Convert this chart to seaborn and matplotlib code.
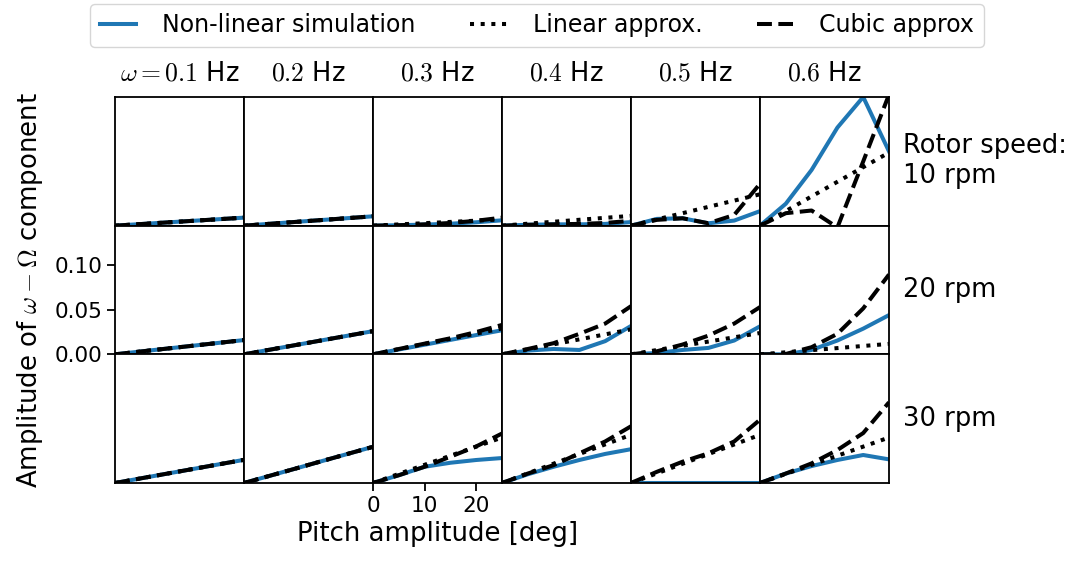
import matplotlib
matplotlib.use("Agg")
import matplotlib.pyplot as plt
import seaborn as sns
import numpy as np
import pandas as pd

# ---------------- data ----------------
pitch = [0, 5, 10, 15, 20, 25]
col_titles = [r"$\omega = 0.1$ Hz", r"$0.2$ Hz", r"$0.3$ Hz",
              r"$0.4$ Hz", r"$0.5$ Hz", r"$0.6$ Hz"]
row_labels = ["Rotor speed:\n10 rpm", "20 rpm", "30 rpm"]
series_names = ["Non-linear simulation", "Linear approx.", "Cubic approx"]
ytick_vals = [0.0, 0.05, 0.10]
ytick_labels = ["0.00", "0.05", "0.10"]
xtick_vals = [0, 10, 20]
xtick_labels = ["0", "10", "20"]

# rows: rotor speed; each list entry: one wave frequency (0.1 ... 0.6 Hz)
nonlin_10rpm = [
    [0, 0.0018, 0.0036, 0.0054, 0.0072, 0.0090],
    [0, 0.0021, 0.0042, 0.0063, 0.0084, 0.0105],
    [0, 0.0005, 0.0012, 0.0022, 0.0038, 0.0060],
    [0, 0.0010, 0.0015, 0.0015, 0.0020, 0.0040],
    [0, 0.0076, 0.0083, 0.0027, 0.0057, 0.0163],
    [0, 0.0246, 0.0625, 0.1100, 0.1443, 0.0833],
]
linear_10rpm = [
    [0, 0.0018, 0.0036, 0.0054, 0.0072, 0.0090],
    [0, 0.0021, 0.0042, 0.0063, 0.0084, 0.0105],
    [0, 0.0014, 0.0028, 0.0042, 0.0056, 0.0070],
    [0, 0.0022, 0.0044, 0.0066, 0.0088, 0.0110],
    [0, 0.0070, 0.0140, 0.0211, 0.0281, 0.0352],
    [0, 0.0164, 0.0328, 0.0492, 0.0656, 0.0820],
]
cubic_10rpm = [
    [0, 0.0018, 0.0036, 0.0054, 0.0072, 0.0090],
    [0, 0.0021, 0.0042, 0.0063, 0.0084, 0.0105],
    [0, 0.0005, 0.0015, 0.0030, 0.0055, 0.0090],
    [0, 0.0010, 0.0015, 0.0020, 0.0030, 0.0055],
    [0, 0.0065, 0.0083, 0.0027, 0.0120, 0.0470],
    [0, 0.0140, 0.0170, -0.0020, 0.0720, 0.1470],
]

nonlin_20rpm = [
    [0, 0.0032, 0.0064, 0.0096, 0.0128, 0.0160],
    [0, 0.0052, 0.0104, 0.0156, 0.0208, 0.0260],
    [0, 0.0054, 0.0108, 0.0162, 0.0216, 0.0270],
    [0, 0.0042, 0.0060, 0.0049, 0.0148, 0.0318],
    [0, 0.0015, 0.0049, 0.0072, 0.0155, 0.0314],
    [0, 0.0000, 0.0049, 0.0155, 0.0288, 0.0440],
]
linear_20rpm = [
    [0, 0.0032, 0.0064, 0.0096, 0.0128, 0.0160],
    [0, 0.0052, 0.0104, 0.0156, 0.0208, 0.0260],
    [0, 0.0058, 0.0116, 0.0174, 0.0232, 0.0290],
    [0, 0.0056, 0.0112, 0.0168, 0.0224, 0.0280],
    [0, 0.0048, 0.0096, 0.0143, 0.0191, 0.0239],
    [0, 0.0023, 0.0047, 0.0070, 0.0094, 0.0117],
]
cubic_20rpm = [
    [0, 0.0032, 0.0064, 0.0096, 0.0128, 0.0160],
    [0, 0.0052, 0.0104, 0.0156, 0.0208, 0.0260],
    [0, 0.0060, 0.0120, 0.0180, 0.0250, 0.0330],
    [0, 0.0060, 0.0125, 0.0230, 0.0345, 0.0540],
    [0, 0.0034, 0.0110, 0.0210, 0.0345, 0.0530],
    [0, 0.0004, 0.0080, 0.0230, 0.0515, 0.0895],
]

nonlin_30rpm = [
    [0, 0.0052, 0.0104, 0.0156, 0.0208, 0.0260],
    [0, 0.0081, 0.0162, 0.0244, 0.0325, 0.0406],
    [0, 0.0087, 0.0182, 0.0227, 0.0258, 0.0280],
    [0, 0.0098, 0.0182, 0.0258, 0.0326, 0.0379],
    [0, 0.0000, 0.0000, 0.0000, 0.0000, 0.0000],
    [0, 0.0106, 0.0190, 0.0258, 0.0314, 0.0265],
]
linear_30rpm = [
    [0, 0.0052, 0.0104, 0.0156, 0.0208, 0.0260],
    [0, 0.0081, 0.0162, 0.0244, 0.0325, 0.0406],
    [0, 0.0102, 0.0204, 0.0306, 0.0408, 0.0510],
    [0, 0.0108, 0.0217, 0.0325, 0.0433, 0.0540],
    [0, 0.0108, 0.0216, 0.0324, 0.0432, 0.0540],
    [0, 0.0102, 0.0204, 0.0306, 0.0408, 0.0510],
]
cubic_30rpm = [
    [0, 0.0052, 0.0104, 0.0156, 0.0208, 0.0260],
    [0, 0.0081, 0.0162, 0.0244, 0.0325, 0.0406],
    [0, 0.0087, 0.0182, 0.0295, 0.0410, 0.0555],
    [0, 0.0106, 0.0200, 0.0333, 0.0466, 0.0636],
    [0, 0.0125, 0.0239, 0.0333, 0.0466, 0.0710],
    [0, 0.0106, 0.0220, 0.0370, 0.0560, 0.0905],
]

nonlin = [nonlin_10rpm, nonlin_20rpm, nonlin_30rpm]
linear = [linear_10rpm, linear_20rpm, linear_30rpm]
cubic = [cubic_10rpm, cubic_20rpm, cubic_30rpm]

# ---------------- style ----------------
plt.rcParams.update({
    "font.family": ["DejaVu Sans"],
    "mathtext.fontset": "cm",
    "axes.linewidth": 1.3,
    "xtick.major.width": 1.3,
    "ytick.major.width": 1.3,
    "xtick.major.size": 5.5,
    "ytick.major.size": 5.5,
})

LW = 2.9
BLUE = "#1f77b4"
YMAX = 0.1443
XMAX = 25

fig = plt.figure(figsize=(10.74, 5.64), dpi=100)
axes = fig.subplots(3, 6, gridspec_kw=dict(wspace=0, hspace=0))
fig.subplots_adjust(left=115 / 1074, right=889 / 1074,
                    top=1 - 97 / 564, bottom=1 - 483 / 564)

for r in range(3):
    for c in range(6):
        ax = axes[r, c]
        first = (r == 0 and c == 0)
        sns.lineplot(x=pitch, y=nonlin[r][c], ax=ax, color=BLUE, lw=LW,
                     estimator=None, label=series_names[0] if first else None)
        sns.lineplot(x=pitch, y=linear[r][c], ax=ax, color="black", lw=LW,
                     linestyle=":", estimator=None,
                     label=series_names[1] if first else None)
        sns.lineplot(x=pitch, y=cubic[r][c], ax=ax, color="black", lw=LW,
                     linestyle="--", estimator=None,
                     label=series_names[2] if first else None)
        ax.set_xlim(0, XMAX)
        ax.set_ylim(0, YMAX)
        ax.set_xlabel("")
        ax.set_ylabel("")
        ax.tick_params(left=False, bottom=False,
                       labelleft=False, labelbottom=False)
        if ax.get_legend() is not None:
            handles, labels = ax.get_legend_handles_labels()
            ax.get_legend().remove()
        if r == 0:
            ax.set_title(col_titles[c], fontsize=18.5, pad=12)
        if c == 5:
            ax.text(1 + 14 / 129, 0.5, row_labels[r], transform=ax.transAxes,
                    ha="left", va="center", fontsize=18.5)

# y ticks on middle-left panel
axm = axes[1, 0]
axm.set_yticks(ytick_vals)
axm.set_yticklabels(ytick_labels)
axm.tick_params(left=True, labelleft=True, labelsize=15.6)
axm.set_ylabel(r"Amplitude of $\omega - \Omega$ component", fontsize=18.7,
               labelpad=7)

# x ticks on bottom 0.3 Hz panel
axb = axes[2, 2]
axb.set_xticks(xtick_vals)
axb.set_xticklabels(xtick_labels)
axb.tick_params(bottom=True, labelbottom=True, labelsize=15.6)
axb.set_xlabel("Pitch amplitude [deg]", fontsize=18.7)

fig.legend(handles, labels, loc="upper center",
           bbox_to_anchor=(0.5, 1 - 4 / 564), ncol=3, fontsize=17,
           handlelength=1.55, handletextpad=1.1, columnspacing=2.3,
           borderaxespad=0)

fig.savefig("out.png", dpi=100)
